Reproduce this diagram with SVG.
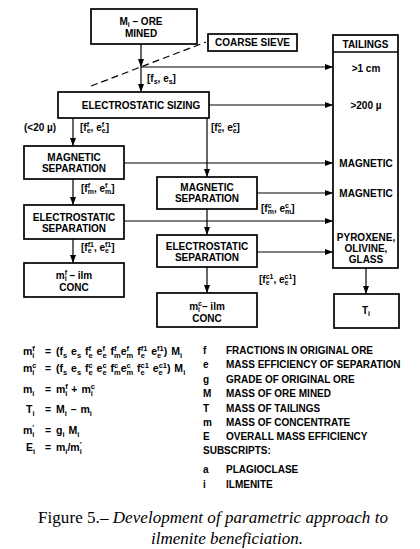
<svg xmlns="http://www.w3.org/2000/svg" width="420" height="549" viewBox="0 0 420 549">
<defs>
<marker id="ah" markerWidth="8" markerHeight="6" refX="8" refY="3" orient="auto" markerUnits="userSpaceOnUse"><path d="M0,0 L8,3 L0,6 z" fill="#000"/></marker>
<style>
.box{fill:#fff;stroke:#000;stroke-width:1.7}
.t{font-family:"Liberation Sans",Arial,sans-serif;font-weight:bold;font-size:10px;fill:#000}
.c{text-anchor:middle}
.s{font-size:7px}
.e{font-size:10.5px;word-spacing:1px}
.es{font-size:7.5px}
.ln{stroke:#000;stroke-width:1.2;fill:none;marker-end:url(#ah)}
.dash{stroke:#000;stroke-width:1.2;stroke-dasharray:7,4;fill:none}
.cap{font-family:"Liberation Serif","Times New Roman",serif;font-size:17px;fill:#000}
</style>
</defs>
<rect width="420" height="549" fill="#fff"/>

<g id="connectors">
<path class="ln" d="M141,44 V67"/>
<path class="ln" d="M141,67 V92"/>
<path class="ln" d="M141,67 H333"/>
<path class="dash" d="M91,86 L206,42"/>
<path class="ln" d="M209,105 H333"/>
<path class="ln" d="M73,118 V146"/>
<path class="ln" d="M207,118 V177"/>
<path class="ln" d="M124,163 H333"/>
<path class="ln" d="M73,179 V205"/>
<path class="ln" d="M257,193 H333"/>
<path class="ln" d="M124,221 H333"/>
<path class="ln" d="M207,209 V235"/>
<path class="ln" d="M73,239 V263"/>
<path class="ln" d="M257,252 H333"/>
<path class="ln" d="M207,267 V293"/>
<path class="ln" d="M366,268 V294"/>
</g>

<g id="labels">
<text class="t" x="147" y="82">[f<tspan class="s" dy="2">s</tspan><tspan dy="-2">, e</tspan><tspan class="s" dy="2">s</tspan><tspan dy="-2">]</tspan></text>
<text class="t" x="24" y="131">(&lt;20 µ)</text>
<text class="t" x="80" y="131">[f<tspan class="s" dy="-4">f</tspan><tspan class="s" dx="-2.3" dy="6">e</tspan><tspan dy="-2">, e</tspan><tspan class="s" dy="-4">f</tspan><tspan class="s" dx="-2.3" dy="6">e</tspan><tspan dy="-2">]</tspan></text>
<text class="t" x="211" y="131">[f<tspan class="s" dy="-4">c</tspan><tspan class="s" dx="-3.9" dy="6">e</tspan><tspan dy="-2">, e</tspan><tspan class="s" dy="-4">c</tspan><tspan class="s" dx="-3.9" dy="6">e</tspan><tspan dy="-2">]</tspan></text>
<text class="t" x="81" y="192">[f<tspan class="s" dy="-4">f</tspan><tspan class="s" dx="-2.3" dy="6">m</tspan><tspan dy="-2">, e</tspan><tspan class="s" dy="-4">f</tspan><tspan class="s" dx="-2.3" dy="6">m</tspan><tspan dy="-2">]</tspan></text>
<text class="t" x="81" y="251">[f<tspan class="s" dy="-4">f1</tspan><tspan class="s" dx="-6.2" dy="6">e</tspan><tspan dy="-2" dx="2.3">, e</tspan><tspan class="s" dy="-4">f1</tspan><tspan class="s" dx="-6.2" dy="6">e</tspan><tspan dy="-2" dx="2.3">]</tspan></text>
<text class="t" x="261" y="212">[f<tspan class="s" dy="-4">c</tspan><tspan class="s" dx="-3.9" dy="6">m</tspan><tspan dy="-2">, e</tspan><tspan class="s" dy="-4">c</tspan><tspan class="s" dx="-3.9" dy="6">m</tspan><tspan dy="-2">]</tspan></text>
<text class="t" x="259" y="283">[f<tspan class="s" dy="-4">c1</tspan><tspan class="s" dx="-7.8" dy="6">e</tspan><tspan dy="-2" dx="3.9">, e</tspan><tspan class="s" dy="-4">c1</tspan><tspan class="s" dx="-7.8" dy="6">e</tspan><tspan dy="-2" dx="3.9">]</tspan></text>
</g>

<g id="ore">
<rect class="box" x="91" y="9" width="106" height="35"/>
<text class="t c" x="141" y="25">M<tspan class="s" dy="2">i</tspan><tspan dy="-2"> – ORE</tspan></text>
<text class="t c" x="141" y="37">MINED</text>
</g>

<g id="sieve">
<rect class="box" x="208" y="34" width="89" height="17"/>
<text class="t c" x="252.5" y="46">COARSE SIEVE</text>
</g>

<g id="sizing">
<rect class="box" x="58" y="92" width="151" height="26"/>
<text class="t c" x="141" y="109">ELECTROSTATIC SIZING</text>
</g>

<g id="tailings">
<rect class="box" x="333" y="35" width="65" height="233"/>
<line x1="333" y1="52" x2="398" y2="52" stroke="#000" stroke-width="1.7"/>
<text class="t c" x="365.5" y="48">TAILINGS</text>
<text class="t c" x="366" y="72">&gt;1 cm</text>
<text class="t c" x="366" y="109">&gt;200 µ</text>
<text class="t c" x="366" y="167">MAGNETIC</text>
<text class="t c" x="366" y="197">MAGNETIC</text>
<text class="t c" x="366" y="241">PYROXENE,</text>
<text class="t c" x="366" y="252">OLIVINE,</text>
<text class="t c" x="366" y="263">GLASS</text>
</g>

<g id="ti">
<rect class="box" x="334" y="294" width="65" height="34"/>
<text class="t c" x="366" y="314">T<tspan class="s" dy="2">i</tspan></text>
</g>

<g id="mag-fine">
<rect class="box" x="24" y="146" width="100" height="33"/>
<text class="t c" x="74" y="161">MAGNETIC</text>
<text class="t c" x="74" y="172">SEPARATION</text>
</g>

<g id="elec-fine">
<rect class="box" x="24" y="205" width="100" height="34"/>
<text class="t c" x="74" y="221">ELECTROSTATIC</text>
<text class="t c" x="74" y="232">SEPARATION</text>
</g>

<g id="conc-fine">
<rect class="box" x="24" y="263" width="100" height="34"/>
<text class="t c" x="74" y="279">m<tspan class="s" dy="-4">f</tspan><tspan class="s" dx="-2.3" dy="6">i</tspan><tspan dy="-2"> – ilm</tspan></text>
<text class="t c" x="74" y="291">CONC</text>
</g>

<g id="mag-coarse">
<rect class="box" x="157" y="177" width="100" height="32"/>
<text class="t c" x="207" y="191">MAGNETIC</text>
<text class="t c" x="207" y="202">SEPARATION</text>
</g>

<g id="elec-coarse">
<rect class="box" x="157" y="235" width="100" height="32"/>
<text class="t c" x="207" y="250">ELECTROSTATIC</text>
<text class="t c" x="207" y="261">SEPARATION</text>
</g>

<g id="conc-coarse">
<rect class="box" x="157" y="293" width="100" height="34"/>
<text class="t c" x="207" y="310">m<tspan class="s" dy="-4">c</tspan><tspan class="s" dx="-3.9" dy="6">i</tspan><tspan dy="-2" dx="2">– ilm</tspan></text>
<text class="t c" x="207" y="322">CONC</text>
</g>

<g id="equations">
<text class="t e" x="23" y="355">m<tspan class="es" dy="-4">f</tspan><tspan class="es" dx="-2.5" dy="6.5">i</tspan></text>
<text class="t e" x="45" y="355">=</text>
<text class="t e" x="56" y="355">(f<tspan class="es" dy="2.5">s</tspan><tspan dy="-2.5"> e</tspan><tspan class="es" dy="2.5">s</tspan><tspan dy="-2.5"> f</tspan><tspan class="es" dy="-4">f</tspan><tspan class="es" dx="-2.5" dy="6.5">e</tspan><tspan dy="-2.5"> e</tspan><tspan class="es" dy="-4">f</tspan><tspan class="es" dx="-2.5" dy="6.5">e</tspan><tspan dy="-2.5"> f</tspan><tspan class="es" dy="-4">f</tspan><tspan class="es" dx="-2.5" dy="6.5">m</tspan><tspan dy="-2.5">e</tspan><tspan class="es" dy="-4">f</tspan><tspan class="es" dx="-2.5" dy="6.5">m</tspan><tspan dy="-2.5"> f</tspan><tspan class="es" dy="-4">f1</tspan><tspan class="es" dx="-6.7" dy="6.5">e</tspan><tspan dy="-2.5" dx="2.5"> e</tspan><tspan class="es" dy="-4">f1</tspan><tspan class="es" dx="-6.7" dy="6.5">e</tspan><tspan dy="-2.5" dx="2.5">) M</tspan><tspan class="es" dy="2.5">i</tspan></text>

<text class="t e" x="23" y="372">m<tspan class="es" dy="-4">c</tspan><tspan class="es" dx="-4.2" dy="6.5">i</tspan></text>
<text class="t e" x="45" y="372">=</text>
<text class="t e" x="56" y="372">(f<tspan class="es" dy="2.5">s</tspan><tspan dy="-2.5"> e</tspan><tspan class="es" dy="2.5">s</tspan><tspan dy="-2.5"> f</tspan><tspan class="es" dy="-4">c</tspan><tspan class="es" dx="-4.2" dy="6.5">e</tspan><tspan dy="-2.5"> e</tspan><tspan class="es" dy="-4">c</tspan><tspan class="es" dx="-4.2" dy="6.5">e</tspan><tspan dy="-2.5"> f</tspan><tspan class="es" dy="-4">c</tspan><tspan class="es" dx="-4.2" dy="6.5">m</tspan><tspan dy="-2.5">e</tspan><tspan class="es" dy="-4">c</tspan><tspan class="es" dx="-4.2" dy="6.5">m</tspan><tspan dy="-2.5"> f</tspan><tspan class="es" dy="-4">c1</tspan><tspan class="es" dx="-8.4" dy="6.5">e</tspan><tspan dy="-2.5" dx="4.2"> e</tspan><tspan class="es" dy="-4">c1</tspan><tspan class="es" dx="-8.4" dy="6.5">e</tspan><tspan dy="-2.5" dx="4.2">) M</tspan><tspan class="es" dy="2.5">i</tspan></text>

<text class="t e" x="23" y="393">m<tspan class="es" dy="2.5">i</tspan></text>
<text class="t e" x="45" y="393">=</text>
<text class="t e" x="56" y="393">m<tspan class="es" dy="-4">f</tspan><tspan class="es" dx="-2.5" dy="6.5">i</tspan><tspan dy="-2.5"> + m</tspan><tspan class="es" dy="-4">c</tspan><tspan class="es" dx="-4.2" dy="6.5">i</tspan></text>

<text class="t e" x="26" y="413">T<tspan class="es" dy="2.5">i</tspan></text>
<text class="t e" x="45" y="413">=</text>
<text class="t e" x="56" y="413">M<tspan class="es" dy="2.5">i</tspan><tspan dy="-2.5"> – m</tspan><tspan class="es" dy="2.5">i</tspan></text>

<text class="t e" x="23" y="434">m<tspan class="es" dy="-4">'</tspan><tspan class="es" dx="-1.8" dy="6.5">i</tspan></text>
<text class="t e" x="45" y="434">=</text>
<text class="t e" x="56" y="434">g<tspan class="es" dy="2.5">i</tspan><tspan dy="-2.5"> M</tspan><tspan class="es" dy="2.5">i</tspan></text>

<text class="t e" x="26" y="451">E<tspan class="es" dy="2.5">i</tspan></text>
<text class="t e" x="45" y="451">=</text>
<text class="t e" x="56" y="451">m<tspan class="es" dy="2.5">i</tspan><tspan dy="-2.5">/m</tspan><tspan class="es" dy="-4">'</tspan><tspan class="es" dx="-1.8" dy="6.5">i</tspan></text>
</g>

<g id="legend">
<text class="t" x="203" y="354">f</text><text class="t" x="226" y="354">FRACTIONS IN ORIGINAL ORE</text>
<text class="t" x="203" y="368">e</text><text class="t" x="226" y="368">MASS EFFICIENCY OF SEPARATION</text>
<text class="t" x="203" y="383">g</text><text class="t" x="226" y="383">GRADE OF ORIGINAL ORE</text>
<text class="t" x="203" y="397">M</text><text class="t" x="226" y="397">MASS OF ORE MINED</text>
<text class="t" x="203" y="412">T</text><text class="t" x="226" y="412">MASS OF TAILINGS</text>
<text class="t" x="203" y="426">m</text><text class="t" x="226" y="426">MASS OF CONCENTRATE</text>
<text class="t" x="203" y="440">E</text><text class="t" x="226" y="440">OVERALL MASS EFFICIENCY</text>
<text class="t" x="203" y="454">SUBSCRIPTS:</text>
<text class="t" x="203" y="473">a</text><text class="t" x="226" y="473">PLAGIOCLASE</text>
<text class="t" x="203" y="488">i</text><text class="t" x="226" y="488">ILMENITE</text>
</g>

<g id="caption">
<text class="cap" x="38" y="523" textLength="350" lengthAdjust="spacing">Figure 5.– <tspan font-style="italic">Development of parametric approach to</tspan></text>
<text class="cap" x="151" y="544" font-style="italic">ilmenite beneficiation.</text>
</g>
</svg>
